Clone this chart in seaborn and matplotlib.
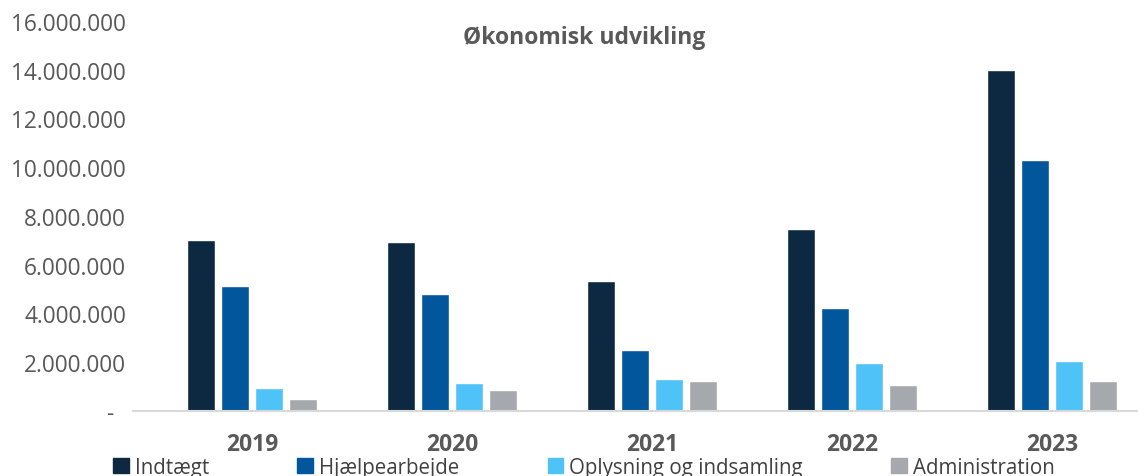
import pandas as pd
import seaborn as sns
import matplotlib.pyplot as plt

years = ['2019', '2020', '2021', '2022', '2023']
series = ['Indtægt', 'Hjælpearbejde', 'Oplysning og indsamling', 'Administration']
indtaegt = [7000000, 6940000, 5320000, 7480000, 13970000]
hjaelp = [5110000, 4790000, 2490000, 4210000, 10280000]
oplysning = [940000, 1140000, 1320000, 1980000, 2040000]
administration = [480000, 880000, 1250000, 1070000, 1250000]
colors = ['#0d2841', '#02569b', '#4fc3f7', '#a5a8ad']

rows = []
for navn, vals in zip(series, [indtaegt, hjaelp, oplysning, administration]):
    for aar, v in zip(years, vals):
        rows.append({'år': aar, 'serie': navn, 'beløb': v})
df = pd.DataFrame(rows)

sns.set_style('white')
plt.rcParams['font.family'] = ['Open Sans', 'DejaVu Sans']

fig = plt.figure(figsize=(11.38, 4.77), dpi=100)
ax = fig.add_axes([0.117, 0.1363, 0.883, 0.8176])

sns.barplot(data=df, x='år', y='beløb', hue='serie', order=years, hue_order=series,
            palette=colors, width=0.68, gap=0.18, saturation=1, ax=ax, legend=False)

ax.set_xlim(-0.595, 4.43)
ax.set_ylim(0, 16000000)
ticks = list(range(0, 16000001, 2000000))
ax.set_yticks(ticks)
ax.set_yticklabels(['-  '] + [f'{t:,}'.replace(',', '.') for t in ticks[1:]])
ax.tick_params(axis='y', length=0, pad=5, labelsize=16.3, labelcolor='#595959')
ax.tick_params(axis='x', length=0, pad=15, labelsize=16.5, labelcolor='#595959')
for lbl in ax.get_xticklabels():
    lbl.set_fontweight('bold')
ax.set_xlabel('')
ax.set_ylabel('')

for s in ['top', 'right', 'left']:
    ax.spines[s].set_visible(False)
ax.spines['bottom'].set_color('#d9d9d9')
ax.spines['bottom'].set_linewidth(1.5)

fig.text(0.513, 0.92, 'Økonomisk udvikling', ha='center', va='center',
         fontsize=16.5, fontweight='bold', color='#595959')

handles = [plt.Rectangle((0, 0), 1, 1, color=c) for c in colors]
fig.legend(handles, series, loc='center', bbox_to_anchor=(0.513, 0.018), ncol=4,
           frameon=False, fontsize=14.8, labelcolor='#404040', handlelength=0.75,
           handleheight=0.75, handletextpad=0.3, columnspacing=4.3)

plt.savefig('out.png', dpi=100)
